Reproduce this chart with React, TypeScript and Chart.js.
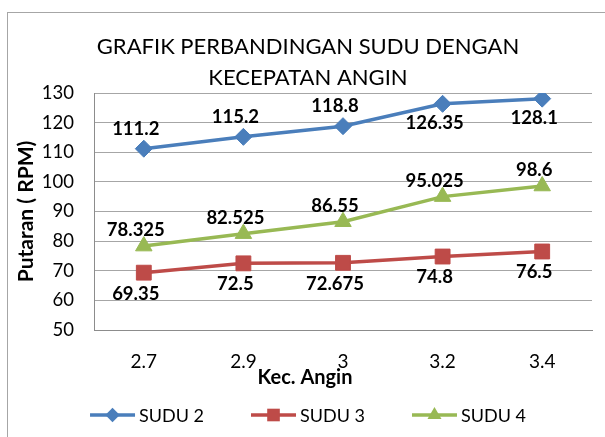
import { useEffect, useRef } from 'react';
import { Chart, registerables } from 'chart.js';

Chart.register(...registerables);

const categories = ['2.7', '2.9', '3', '3.2', '3.4'];
const seriesNames = ['SUDU 2', 'SUDU 3', 'SUDU 4'];
const sudu2 = [111.2, 115.2, 118.8, 126.35, 128.1];
const sudu3 = [69.35, 72.5, 72.675, 74.8, 76.5];
const sudu4 = [78.325, 82.525, 86.55, 95.025, 98.6];
const labelSides = [
  ['above', 'above', 'above', 'below', 'below'],
  ['below', 'below', 'below', 'below', 'below'],
  ['above', 'above', 'above', 'above', 'above'],
];
const titleLines = ['GRAFIK PERBANDINGAN SUDU DENGAN', 'KECEPATAN ANGIN'];
const xTitle = 'Kec. Angin';
const yTitle = 'Putaran ( RPM)';
const yMin = 50;
const yMax = 130;
const yStep = 10;

const colors = ['#4a7ebb', '#be4b48', '#98b954'];
const markerStyles = ['rectRot', 'rect', 'triangle'];
const markerRadius = [8.5, 10.5, 9.5];
const labelGapAbove = [20, 20, 16];
const labelGapBelow = [19, 21, 20];
const FONT = 'Lato, "Open Sans", sans-serif';

function drawMarker(ctx: CanvasRenderingContext2D, style: string, x: number, y: number, r: number, color: string) {
  ctx.save();
  ctx.fillStyle = color;
  ctx.beginPath();
  if (style === 'rectRot') {
    ctx.moveTo(x, y - r);
    ctx.lineTo(x + r, y);
    ctx.lineTo(x, y + r);
    ctx.lineTo(x - r, y);
  } else if (style === 'rect') {
    const s = r * Math.SQRT1_2;
    ctx.rect(x - s, y - s, 2 * s, 2 * s);
  } else {
    for (let k = 0; k < 3; k++) {
      const a = (k * 2 * Math.PI) / 3;
      const px = x + Math.sin(a) * r;
      const py = y - Math.cos(a) * r;
      if (k === 0) ctx.moveTo(px, py);
      else ctx.lineTo(px, py);
    }
  }
  ctx.closePath();
  ctx.fill();
  ctx.restore();
}

const decor = {
  id: 'decor',
  beforeDraw(chart: any) {
    const ctx = chart.ctx as CanvasRenderingContext2D;
    ctx.save();
    ctx.fillStyle = '#ffffff';
    ctx.fillRect(0, 0, chart.width, chart.height);
    ctx.strokeStyle = '#a6a6a6';
    ctx.lineWidth = 1;
    ctx.strokeRect(7.5, 12.5, 800, 600);
    ctx.restore();
  },
  afterDatasetsDraw(chart: any) {
    const ctx = chart.ctx as CanvasRenderingContext2D;
    ctx.save();
    ctx.font = `bold 18.5px ${FONT}`;
    ctx.fillStyle = '#000000';
    ctx.textAlign = 'center';
    ctx.textBaseline = 'middle';
    chart.data.datasets.forEach((ds: any, di: number) => {
      const meta = chart.getDatasetMeta(di);
      meta.data.forEach((pt: any, i: number) => {
        const side = labelSides[di][i];
        const dy = side === 'above' ? -labelGapAbove[di] : labelGapBelow[di];
        ctx.fillText(String(ds.data[i]), pt.x - 8, pt.y + dy);
      });
    });
    ctx.restore();
  },
  afterDraw(chart: any) {
    const ctx = chart.ctx as CanvasRenderingContext2D;
    const cx = 308;
    ctx.save();
    // title
    ctx.fillStyle = '#000000';
    ctx.textAlign = 'center';
    ctx.textBaseline = 'alphabetic';
    ctx.font = `22px ${FONT}`;
    ctx.fillText(titleLines[0], cx, 54);
    ctx.fillText(titleLines[1], cx, 85);
    // x axis title
    ctx.font = `bold 20px ${FONT}`;
    ctx.textBaseline = 'middle';
    ctx.fillText(xTitle, 305, 378);
    // legend
    ctx.font = `18px ${FONT}`;
    const lineLen = 45;
    const gapText = 4;
    const gapItems = 47;
    const widths = seriesNames.map((n) => lineLen + gapText + ctx.measureText(n).width);
    const total = widths.reduce((a, b) => a + b, 0) + gapItems * (seriesNames.length - 1);
    let x = cx - total / 2;
    const ly = 415;
    ctx.textAlign = 'left';
    seriesNames.forEach((name, i) => {
      ctx.strokeStyle = colors[i];
      ctx.lineWidth = 3.5;
      ctx.beginPath();
      ctx.moveTo(x, ly);
      ctx.lineTo(x + lineLen, ly);
      ctx.stroke();
      drawMarker(ctx, markerStyles[i], x + lineLen / 2, ly, markerRadius[i] * 0.85, colors[i]);
      ctx.fillStyle = '#000000';
      ctx.fillText(name, x + lineLen + gapText, ly + 1);
      x += widths[i] + gapItems;
    });
    ctx.restore();
  },
};

export default function App() {
  const ref = useRef<HTMLCanvasElement | null>(null);

  useEffect(() => {
    if (!ref.current) return;
    Chart.defaults.font.family = FONT;
    const series = [sudu2, sudu3, sudu4];
    const chart = new Chart(ref.current, {
      type: 'line',
      data: {
        labels: categories,
        datasets: series.map((d, i) => ({
          label: seriesNames[i],
          data: d,
          borderColor: colors[i],
          backgroundColor: colors[i],
          borderWidth: 3.5,
          pointStyle: markerStyles[i] as any,
          pointRadius: markerRadius[i],
          pointHoverRadius: markerRadius[i],
          pointBorderWidth: 1,
          pointBorderColor: colors[i],
          pointBackgroundColor: colors[i],
          tension: 0,
          fill: false,
        })),
      },
      options: {
        responsive: false,
        animation: false,
        events: [],
        layout: { padding: { top: 93, left: 0, right: 13, bottom: 47 } },
        plugins: {
          legend: { display: false },
          title: { display: false },
          tooltip: { enabled: false },
        },
        scales: {
          x: {
            type: 'category',
            offset: true,
            grid: { display: false },
            border: { display: true, color: '#8c8c8c', width: 1 },
            ticks: { font: { size: 19, family: FONT }, color: '#000000', padding: 12 },
            afterFit: (s: any) => {
              s.height = 60;
            },
          },
          y: {
            min: yMin,
            max: yMax,
            ticks: { stepSize: yStep, font: { size: 18.5, family: FONT }, color: '#000000', padding: 20 },
            grid: { color: '#a6a6a6', drawTicks: false, lineWidth: 1 },
            border: { display: true, color: '#8c8c8c', width: 1 },
            title: {
              display: true,
              text: yTitle,
              color: '#000000',
              font: { size: 21, weight: 'bold', family: FONT },
              padding: { top: 14, bottom: 0 },
            },
            afterFit: (s: any) => {
              s.width = 94;
            },
          },
        },
      },
      plugins: [decor],
    });
    if ((document as any).fonts && (document as any).fonts.load) {
      Promise.all([
        (document as any).fonts.load(`18px Lato`),
        (document as any).fonts.load(`bold 18px Lato`),
      ]).then(() => chart.update()).catch(() => {});
    }
    return () => chart.destroy();
  }, []);

  return (
    <div style={{ position: 'absolute', left: 0, top: 0, width: 605, height: 437, overflow: 'hidden' }}>
      <canvas ref={ref} width={605} height={437} style={{ display: 'block', width: 605, height: 437 }} />
    </div>
  );
}
